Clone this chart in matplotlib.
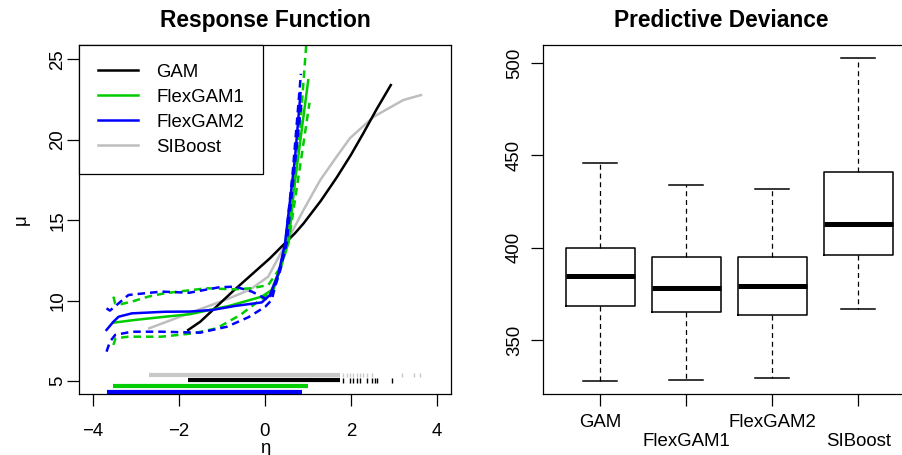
import matplotlib
matplotlib.use("Agg")
import matplotlib.pyplot as plt

plt.rcParams["font.family"] = ["Liberation Sans", "DejaVu Sans"]

# ---- left panel: response functions (eta -> mu) ----
gam_x = [-1.78, -1.5, -0.73, 0.12, 0.43, 0.70, 0.90, 1.30, 1.67, 2.00, 2.29, 2.60, 2.93]
gam_y = [8.19, 8.70, 10.62, 12.64, 13.47, 14.19, 14.80, 16.2, 17.65, 19.05, 20.4, 21.9, 23.4]

sib_x = [-2.69, -1.76, -0.83, -0.34, 0.08, 0.5, 0.9, 1.29, 1.67, 1.98, 2.53, 3.22, 3.63]
sib_y = [8.29, 9.22, 10.15, 10.7, 11.5, 13.6, 15.64, 17.5, 18.95, 20.1, 21.43, 22.47, 22.78]

fg1_x = [-3.52, -3.02, -2.32, -1.76, -0.83, -0.07, 0.16, 0.40, 0.51, 0.76, 1.01]
fg1_y = [8.64, 8.81, 9.01, 9.16, 9.68, 10.26, 10.67, 12.33, 13.57, 18.6, 23.7]
fg1_up_x = [-3.52, -3.48, -3.33, -3.09, -2.71, -2.32, -1.35, -0.73, -0.30, 0.08, 0.32, 0.55, 0.80, 0.98]
fg1_up_y = [10.26, 9.84, 9.80, 9.95, 10.26, 10.47, 10.78, 10.71, 10.78, 10.98, 11.9, 13.57, 20.0, 26.5]
fg1_lo_x = [-3.52, -3.47, -3.17, -2.40, -1.66, -1.12, -0.57, -0.11, 0.20, 0.40, 0.55, 0.80, 1.04]
fg1_lo_y = [7.26, 7.67, 7.77, 7.77, 7.98, 8.29, 9.12, 10.05, 10.67, 12.33, 13.57, 18.0, 22.3]

fg2_x = [-3.68, -3.52, -3.40, -3.09, -2.32, -1.76, -1.22, -0.69, -0.07, 0.12, 0.32, 0.47, 0.70, 0.83]
fg2_y = [8.19, 8.70, 9.01, 9.22, 9.32, 9.33, 9.43, 9.68, 9.90, 10.36, 11.70, 13.57, 18.8, 22.9]
fg2_up_x = [-3.68, -3.60, -3.40, -3.17, -2.78, -2.40, -1.76, -1.06, -0.69, -0.30, 0.08, 0.20, 0.32, 0.47, 0.65, 0.84]
fg2_up_y = [9.53, 9.39, 9.84, 10.36, 10.47, 10.57, 10.5, 10.84, 10.88, 10.57, 10.05, 10.67, 11.7, 13.36, 18.0, 24.1]
fg2_lo_x = [-3.68, -3.60, -3.48, -3.09, -2.40, -1.50, -0.88, -0.38, 0.01, 0.16, 0.24, 0.36, 0.51, 0.70, 0.86]
fg2_lo_y = [6.84, 7.46, 7.88, 8.08, 8.08, 8.02, 8.39, 8.98, 9.63, 10.05, 10.88, 11.9, 13.57, 18.5, 22.5]

# rugs of the fitted eta values: dense span + isolated ticks
sib_rug_span = (-2.69, 1.76)
sib_rug_ticks = [1.83, 1.91, 1.98, 2.06, 2.14, 2.22, 2.29, 2.37, 2.49, 3.19, 3.46, 3.61]
gam_rug_span = (-1.78, 1.76)
gam_rug_ticks = [1.83, 1.98, 2.06, 2.14, 2.22, 2.37, 2.49, 2.56, 2.60, 2.95]
fg1_rug_span = (-3.53, 1.01)
fg2_rug_span = (-3.68, 0.86)
rug_levels = [5.41, 5.05, 4.70, 4.32]

# ---- right panel: predictive deviance boxplots ----
models = ["GAM", "FlexGAM1", "FlexGAM2", "SIBoost"]
whislo = [327.8, 328.3, 329.6, 366.7]
q1 = [368.6, 365.0, 363.4, 396.0]
med = [384.5, 378.3, 379.2, 412.6]
q3 = [400.0, 394.7, 394.9, 441.2]
whishi = [446.0, 433.9, 431.7, 502.5]

GREEN, BLUE, GRAY = "#00CD00", "#0000FF", "#BEBEBE"
LW = 1.8
DASH = (0, (3, 2))
FS = 13.4

fig = plt.figure(figsize=(9.02, 4.55), dpi=100)
ax1 = fig.add_axes([79/902, 61/455, 372/902, 349/455])
ax2 = fig.add_axes([543.3/902, 61/455, 371.7/902, 349/455])

# rugs
for lvl, span, ticks, c in [(rug_levels[0], sib_rug_span, sib_rug_ticks, "#C8C8C8"),
                            (rug_levels[1], gam_rug_span, gam_rug_ticks, "black"),
                            (rug_levels[2], fg1_rug_span, [], GREEN),
                            (rug_levels[3], fg2_rug_span, [], BLUE)]:
    ax1.hlines(lvl, span[0], span[1], color=c, lw=3.0)
    if ticks:
        ax1.vlines(ticks, lvl - 0.13, lvl + 0.13, color=c, lw=1.0)

ax1.plot(sib_x, sib_y, c=GRAY, lw=LW, label="SIBoost")
ax1.plot(gam_x, gam_y, c="black", lw=LW, label="GAM")
ax1.plot(fg1_x, fg1_y, c=GREEN, lw=LW, label="FlexGAM1")
ax1.plot(fg1_up_x, fg1_up_y, c=GREEN, lw=LW, ls=DASH)
ax1.plot(fg1_lo_x, fg1_lo_y, c=GREEN, lw=LW, ls=DASH)
ax1.plot(fg2_x, fg2_y, c=BLUE, lw=LW, label="FlexGAM2")
ax1.plot(fg2_up_x, fg2_up_y, c=BLUE, lw=LW, ls=DASH)
ax1.plot(fg2_lo_x, fg2_lo_y, c=BLUE, lw=LW, ls=DASH)

ax1.set_xlim(-4.32, 4.33)
ax1.set_ylim(4.21, 25.89)
ax1.set_xticks([-4, -2, 0, 2, 4])
ax1.set_xticklabels(["\u22124", "\u22122", "0", "2", "4"])
ax1.set_yticks([5, 10, 15, 20, 25])
ax1.set_title("Response Function", fontsize=16.4, fontweight="bold", pad=13)
ax1.set_xlabel("\u03b7", fontsize=FS, labelpad=0)
ax1.set_ylabel("\u03bc", fontsize=FS, labelpad=14)
ax1.tick_params(axis="x", pad=12)

h, l = ax1.get_legend_handles_labels()
order = [l.index(n) for n in ["GAM", "FlexGAM1", "FlexGAM2", "SIBoost"]]
leg = ax1.legend([h[i] for i in order], [l[i] for i in order], loc="upper left",
                 bbox_to_anchor=(0, 1), borderaxespad=0, fancybox=False,
                 edgecolor="black", framealpha=1, fontsize=FS, handlelength=2.15,
                 handletextpad=1.0, borderpad=1.0, labelspacing=0.43)
leg.get_frame().set_linewidth(0.9)

# boxplots
stats = [dict(whislo=whislo[i], q1=q1[i], med=med[i], q3=q3[i], whishi=whishi[i], label=models[i])
         for i in range(len(models))]
ax2.bxp(stats, positions=[1, 2, 3, 4], widths=0.8, capwidths=0.4, showfliers=False,
        boxprops=dict(color="black", lw=1.1),
        medianprops=dict(color="black", lw=3.6, solid_capstyle="butt"),
        whiskerprops=dict(color="black", lw=0.9, ls=(0, (4, 3))),
        capprops=dict(color="black", lw=1.1))
ax2.set_xlim(0.34, 4.66)
ax2.set_ylim(320.75, 509.75)
ax2.set_yticks([350, 400, 450, 500])
ax2.set_xticks([1, 2, 3, 4])
ax2.set_xticklabels(["GAM", "\nFlexGAM1", "FlexGAM2", "\nSIBoost"])
for t in ax2.get_xticklabels():
    t.set_linespacing(1.15)
ax2.set_title("Predictive Deviance", fontsize=16.4, fontweight="bold", pad=13, x=0.478)
ax2.tick_params(axis="x", pad=6)

for ax, ypad in ((ax1, 0.5), (ax2, 6)):
    ax.tick_params(direction="out", length=8.6, width=0.9, labelsize=FS, colors="black")
    ax.tick_params(axis="y", pad=ypad)
    for t in ax.get_yticklabels():
        t.set_rotation(90)
        t.set_va("center")
    for s in ax.spines.values():
        s.set_linewidth(0.9)

fig.savefig("out.png", dpi=100)
print("saved out.png")
